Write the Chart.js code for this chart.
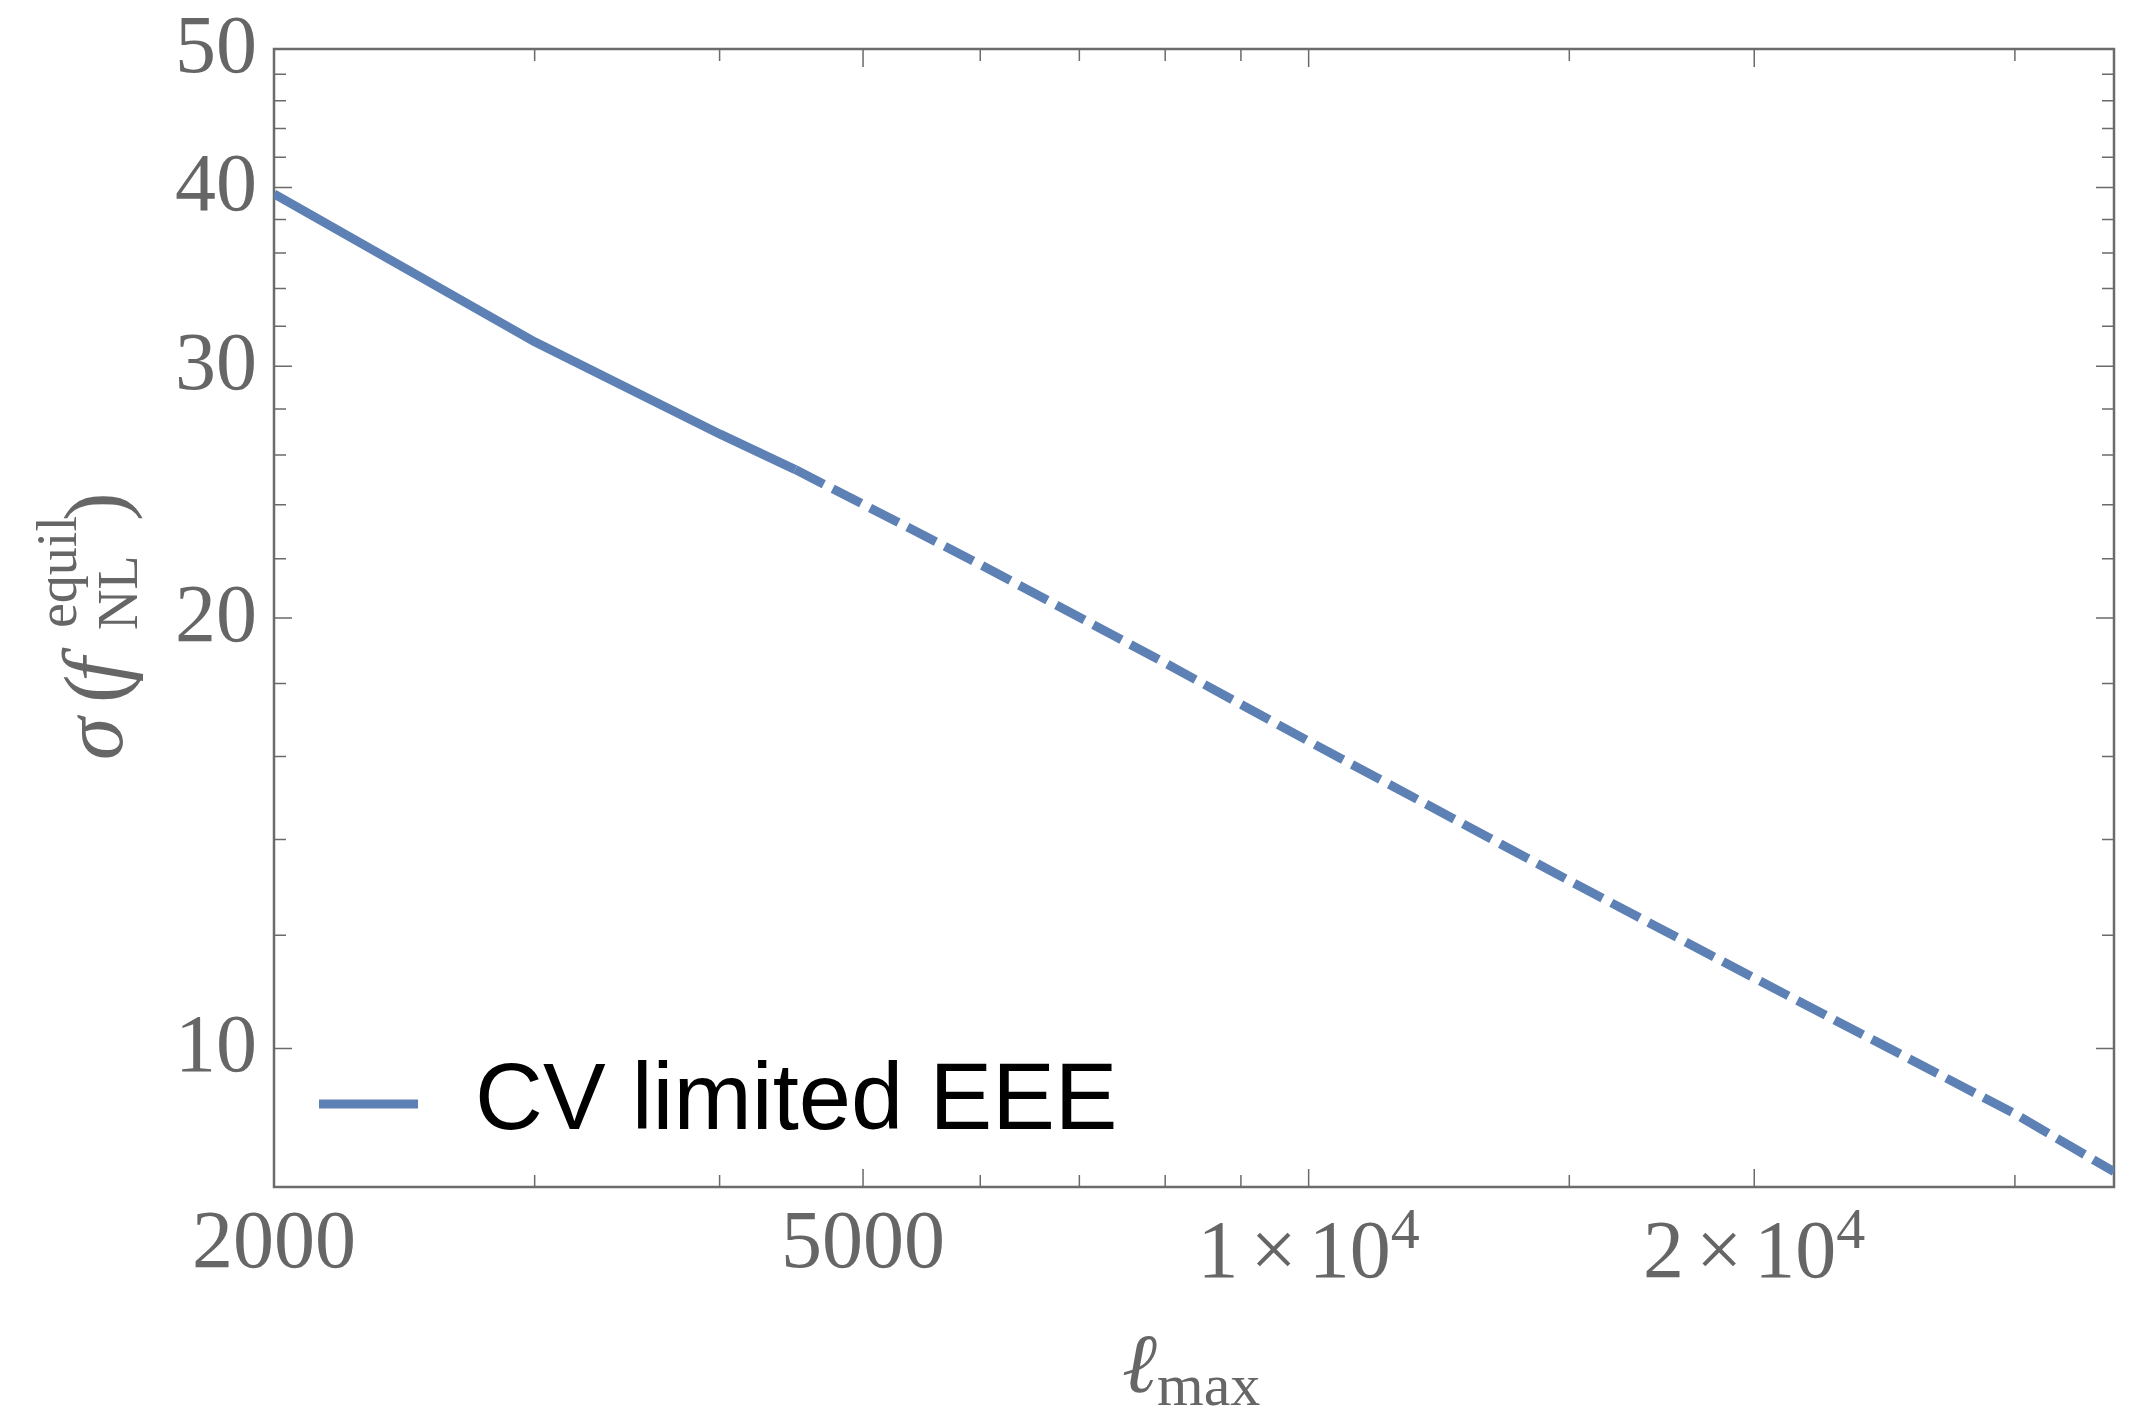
<!DOCTYPE html>
<html>
<head>
<meta charset="utf-8">
<title>sigma(fNL equil) vs lmax</title>
<script src="https://cdn.jsdelivr.net/npm/chart.js"></script>
<style>
  html, body { margin: 0; padding: 0; background: #fff; }
  #wrap { width: 2131px; height: 1416px; }
</style>
</head>
<body>
<div id="wrap"><canvas id="sigma-chart" width="2131" height="1416"></canvas></div>
<script>
// values
const lmaxSolid = [2000, 3000, 4000, 4500];
const sigmaSolid = [39.6, 31.2, 26.9, 25.4];
const lmaxDashed = [4500, 6000, 8000, 10000, 15000, 20000, 30000, 35000];
const sigmaDashed = [25.4, 21.8, 18.6, 16.4, 13.1, 11.2, 9.0, 8.2];

const xMajor = [2000, 5000, 10000, 20000];
const xLabels = ['2000', '5000', '1×10^4', '2×10^4'];
const xMinor = [3000, 4000, 6000, 7000, 8000, 9000, 15000, 30000];
const yMajor = [10, 20, 30, 40, 50];
const yLabels = ['10', '20', '30', '40', '50'];
const yMinor = [12, 14, 16, 18, 22, 24, 26, 28, 32, 34, 36, 38, 42, 44, 46, 48];
const legendLabel = 'CV limited EEE';

const lineColor = '#5e81b5';
const frameColor = '#6b6b6b';
const textGray = '#666666';
const serif = '"Liberation Serif", "DejaVu Serif", serif';

function toPoints(xs, ys) {
    return xs.map((v, i) => ({ x: v, y: ys[i] }));
}

// label like "1×10^4" -> drawn with a real superscript
function drawTickLabel(ctx, text, cx, baseline) {
    if (text.indexOf('^') < 0) {
        ctx.font = '82px ' + serif;
        ctx.textAlign = 'center';
        ctx.fillText(text, cx, baseline);
        return;
    }
    const [mant, exp] = text.split('^');
    const [a, b] = mant.split('×');
    const gap = 12;
    ctx.font = '82px ' + serif;
    const wa = ctx.measureText(a).width;
    const wx = ctx.measureText('×').width;
    const wb = ctx.measureText(b).width;
    ctx.font = '58px ' + serif;
    const we = ctx.measureText(exp).width;
    const total = wa + gap + wx + gap + wb + we;
    let x0 = cx - total / 2;
    ctx.textAlign = 'left';
    ctx.font = '82px ' + serif;
    ctx.fillText(a, x0, baseline + 10);
    x0 += wa + gap;
    ctx.fillText('×', x0, baseline + 10);
    x0 += wx + gap;
    ctx.fillText(b, x0, baseline + 10);
    x0 += wb;
    ctx.font = '58px ' + serif;
    ctx.fillText(exp, x0, baseline - 19);
}

function rotatedText(ctx, text, font, yStart, xBase) {
    ctx.save();
    ctx.translate(xBase, yStart);
    ctx.rotate(-Math.PI / 2);
    ctx.font = font;
    ctx.textAlign = 'left';
    ctx.textBaseline = 'alphabetic';
    ctx.fillText(text, 0, 0);
    ctx.restore();
}

const framePlugin = {
    id: 'frame',
    beforeDatasetsDraw(chart) {
        const { ctx, chartArea: a, scales: { x, y } } = chart;
        ctx.save();
        ctx.strokeStyle = frameColor;
        ctx.lineWidth = 1.5;
        ctx.beginPath();
        const xTick = (v, len) => {
            const px = x.getPixelForValue(v);
            ctx.moveTo(px, a.bottom); ctx.lineTo(px, a.bottom - len);
            ctx.moveTo(px, a.top); ctx.lineTo(px, a.top + len);
        };
        const yTick = (v, len) => {
            const py = y.getPixelForValue(v);
            ctx.moveTo(a.left, py); ctx.lineTo(a.left + len, py);
            ctx.moveTo(a.right, py); ctx.lineTo(a.right - len, py);
        };
        xMajor.forEach(v => xTick(v, 18));
        xMinor.forEach(v => xTick(v, 12));
        yMajor.forEach(v => yTick(v, 18));
        yMinor.forEach(v => yTick(v, 12));
        ctx.stroke();
        ctx.lineWidth = 2.5;
        ctx.strokeRect(a.left, a.top, a.right - a.left, a.bottom - a.top);
        ctx.restore();
    },
    afterDraw(chart) {
        const { ctx, chartArea: a, scales: { x, y } } = chart;
        ctx.save();
        ctx.fillStyle = textGray;
        ctx.textBaseline = 'alphabetic';

        // y tick labels
        ctx.font = '82px ' + serif;
        ctx.textAlign = 'right';
        yMajor.forEach((v, i) => {
            ctx.fillText(yLabels[i], a.left - 17, y.getPixelForValue(v) + 22.5);
        });

        // x tick labels
        xMajor.forEach((v, i) => {
            drawTickLabel(ctx, xLabels[i], x.getPixelForValue(v), 1267);
        });

        // x title: l_max
        ctx.textAlign = 'left';
        ctx.font = 'italic 84px ' + serif;
        ctx.fillText('ℓ', 1122, 1392);
        ctx.font = '60px ' + serif;
        ctx.fillText('max', 1157, 1405);

        // y title: sigma(f_NL^equil)
        rotatedText(ctx, 'σ', 'italic 86px ' + serif, 760, 122);
        rotatedText(ctx, '(', '86px ' + serif, 703, 124);
        rotatedText(ctx, 'f', 'italic 88px ' + serif, 682, 124);
        rotatedText(ctx, 'NL', '56px ' + serif, 630, 137);
        rotatedText(ctx, 'equil', '56px ' + serif, 628, 76);
        rotatedText(ctx, ')', '86px ' + serif, 521, 124);

        // legend
        ctx.strokeStyle = lineColor;
        ctx.lineWidth = 9;
        ctx.beginPath();
        ctx.moveTo(319, 1104);
        ctx.lineTo(418, 1104);
        ctx.stroke();
        ctx.fillStyle = '#000';
        ctx.font = '94px "Liberation Sans", Arial, sans-serif';
        ctx.fillText(legendLabel, 475, 1129);
        ctx.restore();
    }
};

const config = {
    type: 'line',
    data: {
        datasets: [{
            label: legendLabel,
            data: toPoints(lmaxSolid, sigmaSolid),
            borderColor: lineColor,
            borderWidth: 9,
            pointRadius: 0,
            tension: 0
        }, {
            label: legendLabel + ' (extrapolated)',
            data: toPoints(lmaxDashed, sigmaDashed),
            borderColor: lineColor,
            borderWidth: 9,
            borderDash: [32, 10],
            borderCapStyle: 'butt',
            pointRadius: 0,
            tension: 0
        }]
    },
    options: {
        responsive: false,
        animation: false,
        layout: {
            padding: { left: 274, top: 49, right: 17, bottom: 229 }
        },
        plugins: {
            legend: { display: false },
            tooltip: { enabled: false }
        },
        scales: {
            x: { type: 'logarithmic', min: 2000, max: 35000, display: false },
            y: { type: 'logarithmic', min: 8, max: 50, display: false }
        }
    },
    plugins: [framePlugin]
};

const sigmaChart = new Chart(document.getElementById('sigma-chart'), config);
</script>
</body>
</html>
